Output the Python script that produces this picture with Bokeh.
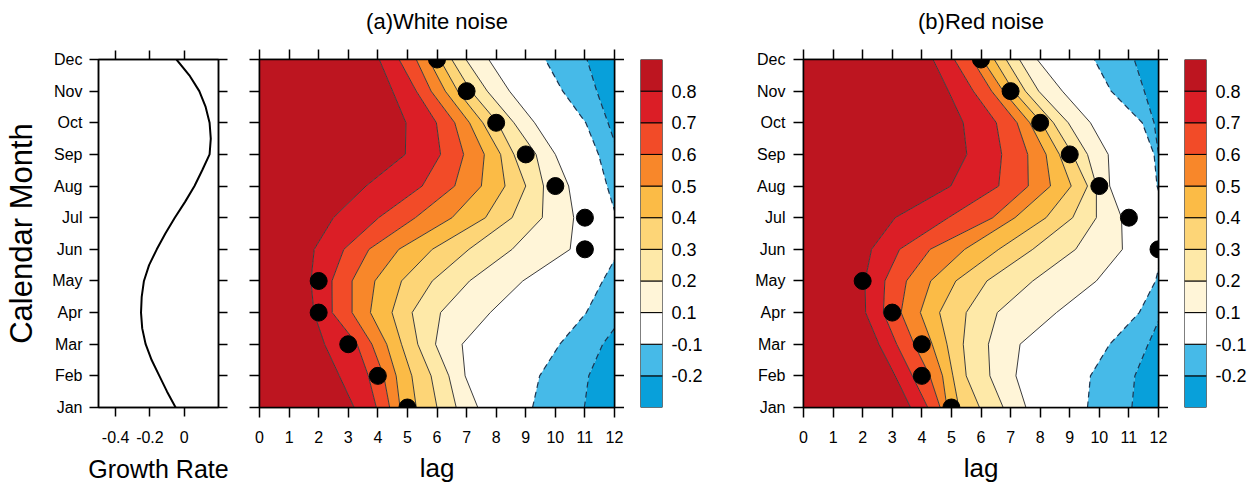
from bokeh.plotting import figure
from bokeh.layouts import row
from bokeh.models import FixedTicker, LinearAxis, Range1d
from bokeh.embed import file_html
from bokeh.resources import INLINE

FONT = "Liberation Sans"

# ---------------- data ----------------
months = ["Jan", "Feb", "Mar", "Apr", "May", "Jun", "Jul", "Aug", "Sep", "Oct", "Nov", "Dec"]
month_pos = list(range(12))
lag_ticks = list(range(13))

# seasonal growth rate, sampled every half month (Jan = 0 ... Dec = 11)
growth_month = [i * 0.5 for i in range(23)]
growth_rate = [-0.050, -0.100, -0.145, -0.190, -0.225, -0.245, -0.252, -0.248,
               -0.235, -0.205, -0.160, -0.110, -0.055, 0.005, 0.060, 0.105,
               0.148, 0.155, 0.148, 0.125, 0.088, 0.030, -0.045]
growth_ticks = [-0.4, -0.2, 0.0]
growth_tick_labels = ["-0.4", "-0.2", "0"]

# contour levels (left to right across the panels) and the band colours between them
levels = [0.8, 0.7, 0.6, 0.5, 0.4, 0.3, 0.2, 0.1, -0.1, -0.2]
band_colors = ["#BD1520", "#DB1E26", "#F24B28", "#F8872A", "#FBBB46", "#FDD577",
               "#FEE9A8", "#FFF5D8", "#FFFFFF", "#46BAE8", "#08A0DA"]

# lag where each contour level crosses each calendar month (Jan..Dec) - white noise
wn_p08 = [3.20, 2.70, 2.20, 1.84, 1.74, 1.85, 2.50, 3.60, 4.93, 4.95, 4.50, 4.05]
wn_p07 = [3.95, 3.68, 3.30, 2.46, 2.45, 2.85, 4.03, 5.50, 6.12, 5.98, 5.30, 4.72]
wn_p06 = [4.40, 4.20, 3.80, 3.13, 3.13, 3.70, 5.27, 6.60, 6.90, 6.60, 5.80, 5.30]
wn_p05 = [4.75, 4.62, 4.30, 3.75, 3.90, 4.71, 6.51, 7.50, 7.60, 7.10, 6.28, 5.72]
wn_p04 = [5.30, 5.15, 4.80, 4.48, 4.80, 5.84, 7.64, 8.30, 8.15, 7.55, 6.70, 6.10]
wn_p03 = [6.00, 5.80, 5.35, 5.16, 5.84, 7.08, 8.54, 9.00, 8.60, 8.05, 7.15, 6.50]
wn_p02 = [6.65, 6.40, 5.95, 6.12, 7.10, 8.54, 9.56, 9.60, 9.35, 8.60, 7.70, 6.98]
wn_p01 = [7.38, 6.95, 6.85, 7.80, 8.90, 10.50, 10.62, 10.45, 10.00, 9.30, 8.45, 7.75]
wn_m01 = [9.23, 9.47, 10.15, 11.05, 11.60, 12.20, 12.07, 11.75, 11.46, 11.03, 10.25, 9.66]
wn_m02 = [10.98, 11.13, 11.60, 12.40, 12.80, 13.00, 13.00, 12.70, 12.15, 11.78, 11.40, 11.07]

# same for red noise
rn_p08 = [3.62, 3.10, 2.55, 2.10, 2.08, 2.30, 3.10, 4.98, 5.52, 5.40, 4.90, 4.38]
rn_p07 = [4.20, 3.68, 3.15, 2.70, 2.75, 3.25, 4.90, 6.60, 6.70, 6.52, 5.74, 5.10]
rn_p06 = [4.62, 4.27, 3.74, 3.30, 3.48, 4.28, 6.40, 7.60, 7.58, 7.22, 6.36, 5.70]
rn_p05 = [4.85, 4.70, 4.35, 3.95, 4.30, 5.45, 7.15, 8.35, 8.20, 7.65, 6.75, 6.05]
rn_p04 = [5.25, 5.05, 4.85, 4.60, 5.15, 6.60, 8.20, 9.05, 8.65, 8.05, 7.10, 6.45]
rn_p03 = [5.95, 5.50, 5.40, 5.50, 6.20, 7.75, 9.10, 9.60, 9.10, 8.45, 7.50, 6.85]
rn_p02 = [6.75, 6.30, 6.25, 6.55, 7.75, 9.20, 9.90, 9.90, 9.60, 8.95, 7.95, 7.30]
rn_p01 = [7.52, 7.18, 7.32, 8.55, 9.90, 10.78, 10.75, 10.35, 10.30, 9.70, 8.75, 7.90]
rn_m01 = [9.60, 9.70, 10.35, 11.35, 11.90, 12.16, 12.30, 11.95, 11.85, 11.45, 10.40, 9.83]
rn_m02 = [11.10, 11.20, 11.65, 12.13, 12.60, 12.90, 12.90, 12.30, 12.00, 11.85, 11.52, 11.18]

# lag marked by a dot for each calendar month
wn_dot_lag = [5, 4, 3, 2, 2, 11, 11, 10, 9, 8, 7, 6]
rn_dot_lag = [5, 4, 4, 3, 2, 12, 11, 10, 9, 8, 7, 6]

wn_lines = [wn_p08, wn_p07, wn_p06, wn_p05, wn_p04, wn_p03, wn_p02, wn_p01, wn_m01, wn_m02]
rn_lines = [rn_p08, rn_p07, rn_p06, rn_p05, rn_p04, rn_p03, rn_p02, rn_p01, rn_m01, rn_m02]


# ---------------- helpers ----------------
def add_axis(p, side, ticks, labels=None, tick_len=10, font_size="15px", standoff=8):
    ax = LinearAxis(ticker=FixedTicker(ticks=ticks))
    ax.major_tick_in = 0
    ax.major_tick_out = tick_len
    ax.minor_tick_line_color = None
    ax.major_tick_line_color = "black"
    ax.major_tick_line_width = 1.5
    ax.axis_line_color = "black"
    ax.axis_line_width = 1.5
    ax.major_label_text_font = FONT
    ax.major_label_text_font_size = font_size
    ax.major_label_text_color = "black"
    if labels is None:
        # tick marks only
        ax.major_label_overrides = {t: "" for t in ticks}
        ax.major_label_standoff = 0
    else:
        ax.major_label_overrides = {t: s for t, s in zip(ticks, labels)}
        ax.major_label_standoff = standoff
    p.add_layout(ax, side)
    return ax


def style_axis_title(ax, text, size="25px", standoff=10):
    ax.axis_label = text
    ax.axis_label_text_font = FONT
    ax.axis_label_text_font_size = size
    ax.axis_label_text_font_style = "normal"
    ax.axis_label_text_color = "black"
    ax.axis_label_standoff = standoff


def base_figure(width, left, right, top, bottom, x_range, y_range):
    p = figure(width=width, height=488, x_range=x_range, y_range=y_range,
               x_axis_location=None, y_axis_location=None,
               output_backend="svg", toolbar_location=None,
               min_border_left=left, min_border_right=right,
               min_border_top=top, min_border_bottom=bottom)
    p.grid.visible = False
    p.outline_line_color = "black"
    p.outline_line_width = 1.5
    p.background_fill_color = "white"
    p.border_fill_color = "white"
    return p


# ---------------- growth-rate panel ----------------
g = base_figure(230, 98, 12, 55, 75, Range1d(-0.5, 0.2), Range1d(0, 11))
g.line(growth_rate, growth_month, line_color="black", line_width=2)
ax_gl = add_axis(g, "left", month_pos, months, tick_len=9, font_size="16px", standoff=7)
style_axis_title(ax_gl, "Calendar Month", size="31px", standoff=10)
add_axis(g, "right", month_pos, None, tick_len=9, font_size="1px")
add_axis(g, "above", growth_ticks, None, tick_len=9, font_size="1px")
ax_gb = add_axis(g, "below", growth_ticks, growth_tick_labels, tick_len=9, font_size="16px", standoff=14)
style_axis_title(ax_gb, "Growth Rate", size="25px", standoff=9)


# ---------------- contour panels ----------------
def contour_panel(title, lines, dots, width, left, show_months):
    p = base_figure(width, left, 10, 57, 78, Range1d(0, 12), Range1d(0, 11))

    edges = [[-1.0] * 12] + lines + [[14.0] * 12]
    for k, color in enumerate(band_colors):
        p.harea(x1=edges[k], x2=edges[k + 1], y=month_pos, fill_color=color)
    for lvl, xs in zip(levels, lines):
        if lvl < 0:
            p.line(xs, month_pos, line_color="#1C3550", line_width=1.2, line_dash="6 4")
        else:
            p.line(xs, month_pos, line_color="#3C3C3C", line_width=1.0)
    p.scatter(dots, month_pos, size=17, fill_color="black", line_color="black")

    ax_b = add_axis(p, "below", lag_ticks, [str(t) for t in lag_ticks], font_size="16px", standoff=13)
    style_axis_title(ax_b, "lag", size="26px", standoff=7)
    # panel heading sits on the top (tick-only) axis
    ax_t = add_axis(p, "above", lag_ticks, None, font_size="1px")
    style_axis_title(ax_t, title, size="22px", standoff=16)
    if show_months:
        add_axis(p, "left", month_pos, months, font_size="16px", standoff=8)
    else:
        add_axis(p, "left", month_pos, None, font_size="1px")
    add_axis(p, "right", month_pos, None, font_size="1px")
    return p


def colorbar(width):
    cb = base_figure(width, 16, width - 38, 59, 81, Range1d(0, 1), Range1d(0, 11))
    cb.outline_line_color = None
    cols = list(reversed(band_colors))
    cb.quad(left=[0] * 11, right=[1] * 11, bottom=list(range(11)), top=list(range(1, 12)),
            fill_color=cols, line_color="black", line_width=1)
    cb_labels = [f"{v:g}" for v in reversed(levels)]
    ax = add_axis(cb, "right", list(range(1, 11)), cb_labels, tick_len=0, font_size="18px", standoff=9)
    ax.major_tick_line_color = None
    ax.axis_line_color = None
    return cb


pa = contour_panel("(a)White noise", wn_lines, wn_dot_lag, 394, 29, False)
cba = colorbar(88)
pb = contour_panel("(b)Red noise", rn_lines, rn_dot_lag, 456, 91, True)
cbb = colorbar(88)

layout = row(g, pa, cba, pb, cbb)
open("out.html", "w").write(file_html(layout, INLINE))
